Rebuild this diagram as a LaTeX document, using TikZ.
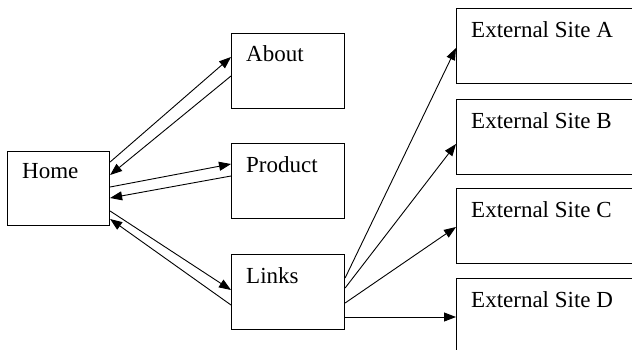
\documentclass[tikz,border=0pt]{standalone}
\usepackage{fontspec}
\setmainfont{Liberation Serif}
\newfontfamily\tnrfont{Liberation Serif}
\usetikzlibrary{arrows.meta}
\begin{document}
\begin{tikzpicture}[x=1pt,y=-1pt,
  pagebox/.style={draw, line width=1.1pt, rectangle, anchor=north west, inner sep=0pt},
  small/.style={pagebox, minimum width=113pt, minimum height=75pt},
  ext/.style={pagebox, minimum width=200pt, minimum height=75pt},
  conn/.style={line width=0.9pt, -{Triangle[length=12pt,width=9pt]}},
  lbl/.style={font=\tnrfont\fontsize{23}{26}\selectfont, inner sep=0pt}]
\clip (0,0) rectangle (632,349);
\fill[white] (0,0) rectangle (632,349);
\node[pagebox, minimum width=102pt, minimum height=74pt,
  label={[lbl, anchor=base west, xshift=15pt, yshift=-27pt]north west:Home}] (home) at (7,151) {};
\node[small, label={[lbl, anchor=base west, xshift=15pt, yshift=-28pt]north west:About}] (about) at (231,33) {};
\node[small, label={[lbl, anchor=base west, xshift=15pt, yshift=-29pt]north west:Product}] (product) at (231,143) {};
\node[small, label={[lbl, anchor=base west, xshift=15pt, yshift=-29pt]north west:Links}] (links) at (231,254) {};
\node[ext, label={[lbl, anchor=base west, xshift=15pt, yshift=-29pt]north west:External Site A}] (exta) at (456,8) {};
\node[ext, label={[lbl, anchor=base west, xshift=15pt, yshift=-29pt]north west:External Site B}] (extb) at (456,99) {};
\node[ext, label={[lbl, anchor=base west, xshift=15pt, yshift=-29pt]north west:External Site C}] (extc) at (456,188) {};
\node[ext, label={[lbl, anchor=base west, xshift=15pt, yshift=-29pt]north west:External Site D}] (extd) at (456,278) {};
% Home <-> About
\draw[conn] ([yshift=-11pt]home.north east) -- ([yshift=-24pt]about.north west);
\draw[conn] ([yshift=-43pt]about.north west) -- ([yshift=-24pt]home.north east);
% Home <-> Product
\draw[conn] ([yshift=-36pt]home.north east) -- ([yshift=-21pt]product.north west);
\draw[conn] ([yshift=-33pt]product.north west) -- ([yshift=-47pt]home.north east);
% Home <-> Links
\draw[conn] ([yshift=-60pt]home.north east) -- ([yshift=-36pt]links.north west);
\draw[conn] ([yshift=-51pt]links.north west) -- ([yshift=-68pt]home.north east);
% Links -> External
\draw[conn] ([yshift=-24pt]links.north east) -- ([yshift=-40pt]exta.north west);
\draw[conn] ([yshift=-34pt]links.north east) -- ([yshift=-45pt]extb.north west);
\draw[conn] ([yshift=-49pt]links.north east) -- ([yshift=-39pt]extc.north west);
\draw[conn] ([yshift=-63pt]links.north east) -- ([yshift=-39pt]extd.north west);
\end{tikzpicture}
\end{document}
